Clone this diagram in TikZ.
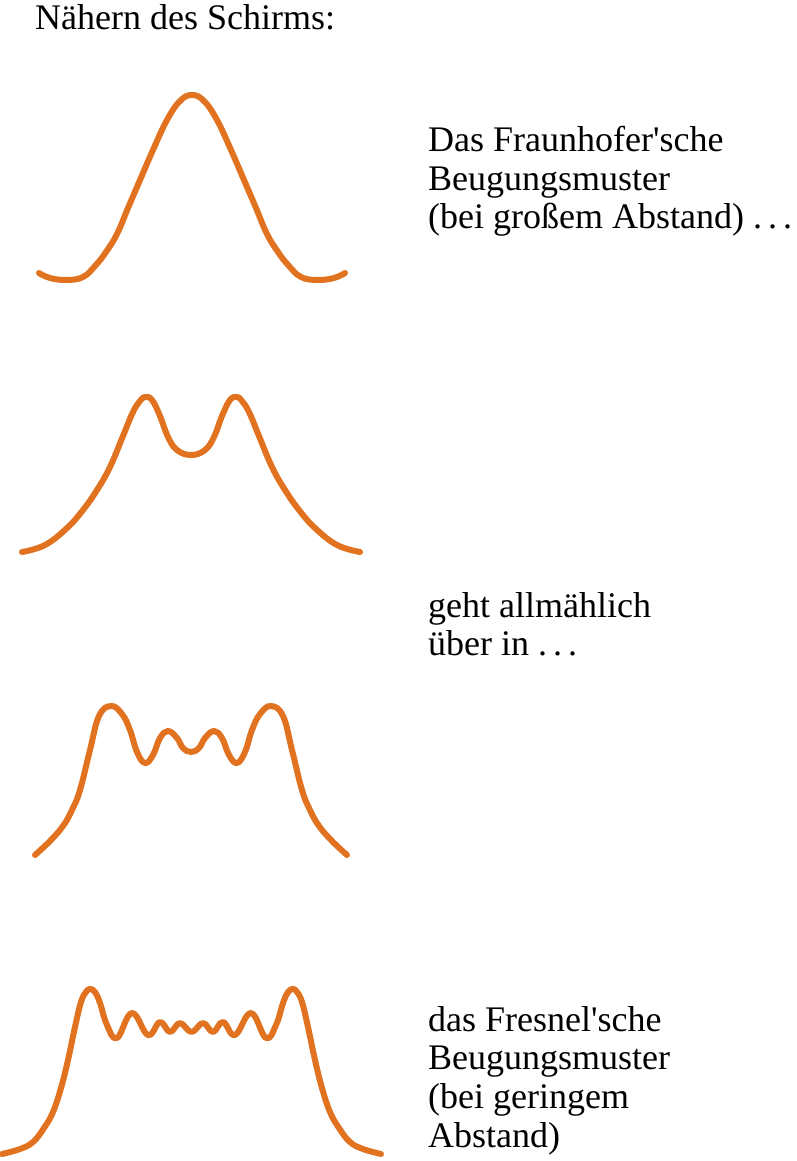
\documentclass[tikz,border=0pt]{standalone}
\usepackage{fontspec}
\setmainfont{Liberation Serif}
\usepackage{tikz}

\definecolor{fringeorange}{RGB}{225,114,32}

\begin{document}
\begin{tikzpicture}[x=1pt,y=-1pt,
    curve/.style={line width=6pt,line cap=round,line join=round,color=fringeorange},
    label/.style={anchor=base west,inner sep=0pt,font=\fontsize{36}{38}\selectfont}]
  \useasboundingbox (0,0) rectangle (796,1161);
  \node[label] (title) at (35,30) {Nähern des Schirms:};
  % Fraunhofer
  \draw[curve] plot[smooth,tension=0.7] coordinates {(39,273) (50,278) (67,280) (83,277) (95,266)
    (106,252) (117,234) (128,208) (140,180) (153,150) (167,120) (180,101) (192,95)
    (204,101) (217,120) (231,150) (244,180) (256,208) (267,234) (278,252) (289,266)
    (301,277) (317,280) (334,278) (345,273)};
  \node[label] (fraunA) at (428,152) {Das Fraunhofer\textquotesingle sche};
  \node[label] (fraunB) at (428,190) {Beugungsmuster};
  \node[label] (fraunC) at (428,228) {(bei großem Abstand)~.\,.\,.};
  % zwei Maxima
  \draw[curve] plot[smooth,tension=0.7] coordinates {(22,552) (45,545) (67,528) (83,510) (97,490)
    (110,467) (123,436) (133,412) (140,401) (145,397) (152,400) (160,416) (168,437)
    (177,450) (191,455) (205,450) (214,437) (222,416) (230,400) (237,397) (242,401)
    (249,412) (259,436) (272,467) (285,490) (299,510) (315,528) (337,545) (360,552)};
  \node[label] (middleA) at (428,617) {geht allmählich};
  \node[label] (middleB) at (428,655) {über in~.\,.\,.};
  % vier Maxima
  \draw[curve] plot[smooth,tension=0.7] coordinates {(35,855) (50,841) (63,826) (72,810) (80,790) (90,750)
    (99,716) (111,706) (122,714) (130,730) (137,752) (145,763) (153,755) (160,738)
    (168,731) (177,738) (183,748) (191,752) (199,748) (205,738) (214,731) (222,738)
    (229,755) (237,763) (245,752) (252,730) (260,714) (271,706) (283,716) (292,750)
    (302,790) (310,810) (319,826) (332,841) (347,855)};
  % Fresnel
  \draw[curve] plot[smooth,tension=0.7] coordinates {(2,1154) (20,1149) (33,1142) (44,1128) (53,1112)
    (61,1088) (68,1060) (75,1027) (81,1002) (86,992) (90,989) (95,992) (100,1003)
    (107,1025) (117,1038) (132,1013) (148,1035) (160,1022) (170,1032) (180,1023)
    (191.5,1032) (203,1023) (213,1032) (223,1022) (235,1035) (251,1013) (266,1038)
    (276,1025) (283,1003) (288,992) (293,989) (297,992) (302,1002) (308,1027)
    (315,1060) (322,1088) (330,1112) (339,1128) (350,1142) (363,1149) (381,1154)};
  \node[label] (fresA) at (428,1031) {das Fresnel\textquotesingle sche};
  \node[label] (fresB) at (428,1069) {Beugungsmuster};
  \node[label] (fresC) at (428,1108) {(bei geringem};
  \node[label] (fresD) at (428,1147) {Abstand)};
\end{tikzpicture}
\end{document}
